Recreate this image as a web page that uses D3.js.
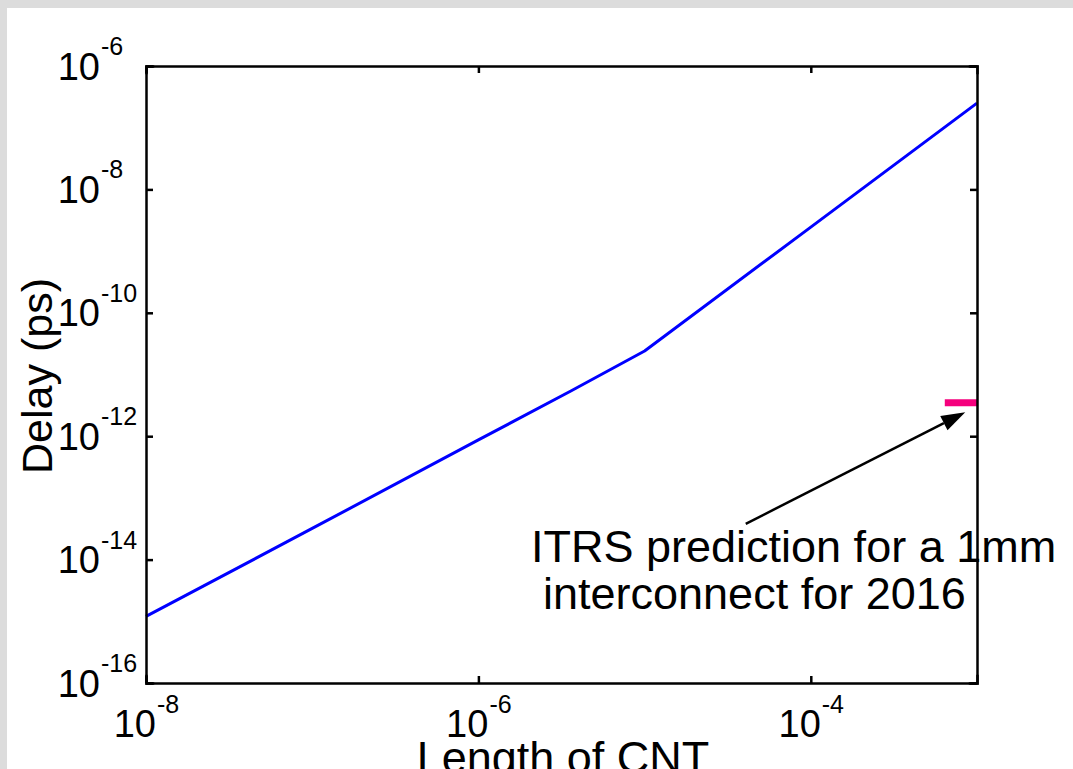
<!DOCTYPE html>
<html>
<head>
<meta charset="utf-8">
<script src="https://cdn.jsdelivr.net/npm/d3@7"></script>
<style>
  html, body { margin: 0; padding: 0; background: #ffffff; }
  svg { display: block; font-family: "Liberation Sans", Arial, sans-serif; }
</style>
</head>
<body>
<svg id="chart" width="1073" height="769"></svg>
<script>
// ---- data ----
const lengths = [1e-8, 1e-7, 1e-6, 3.6e-6, 1e-5, 1e-4, 1e-3];
const delays  = [1.2e-15, 3.2e-14, 8.7e-13, 5.4e-12, 2.4e-11, 2.45e-9, 2.5e-7];
const xTickExps = [-8, -6, -4];
const yTickExps = [-16, -14, -12, -10, -8, -6];
const itrsX = [6.4e-4, 1e-3];
const itrsY = 3.5e-12;
const arrowTail = [4.06e-5, 3.8e-14];
const arrowTip  = [8.5e-4, 2.45e-12];
const annotLines = ["ITRS prediction for a 1mm", "interconnect for 2016"];
const xTitle = "Length of CNT";
const yTitle = "Delay (ps)";

// ---- layout ----
const W = 1073, H = 769;
const m = { left: 146, top: 66, right: 977, bottom: 683 };
const svg = d3.select("#chart");

// background frame (grey edges of screenshot)
svg.append("rect").attr("x", 0).attr("y", 0).attr("width", W).attr("height", H).attr("fill", "#dcdcdc");
svg.append("rect").attr("x", 7).attr("y", 8).attr("width", W - 7).attr("height", H - 8).attr("fill", "#ffffff");

const x = d3.scaleLog().domain([1e-8, 1e-3]).range([m.left, m.right]);
const y = d3.scaleLog().domain([1e-16, 1e-6]).range([m.bottom, m.top]);

// data line
const pts = lengths.map((L, i) => [L, delays[i]]);
svg.append("path")
  .datum(pts)
  .attr("fill", "none")
  .attr("stroke", "#0000ff")
  .attr("stroke-width", 3)
  .attr("stroke-linejoin", "round")
  .attr("d", d3.line().x(d => x(d[0])).y(d => y(d[1])));

// ITRS marker
svg.append("line")
  .attr("x1", x(itrsX[0])).attr("x2", x(itrsX[1]))
  .attr("y1", y(itrsY)).attr("y2", y(itrsY))
  .attr("stroke", "#f5007d").attr("stroke-width", 7);

// axes (ticks inward, box)
const tickLen = 7;
const xAxisB = d3.axisBottom(x).tickValues(xTickExps.map(e => Math.pow(10, e))).tickSize(-tickLen).tickFormat("");
const xAxisT = d3.axisTop(x).tickValues(xTickExps.map(e => Math.pow(10, e))).tickSize(-tickLen).tickFormat("");
const yAxisL = d3.axisLeft(y).tickValues(yTickExps.map(e => Math.pow(10, e))).tickSize(-tickLen).tickFormat("");
const yAxisR = d3.axisRight(y).tickValues(yTickExps.map(e => Math.pow(10, e))).tickSize(-tickLen).tickFormat("");

function styleAxis(g) {
  g.selectAll(".domain").attr("stroke", "#000").attr("stroke-width", 2.5);
  g.selectAll(".tick line").attr("stroke", "#000").attr("stroke-width", 2.5);
}
svg.append("g").attr("transform", `translate(0,${m.bottom})`).call(xAxisB).call(styleAxis);
svg.append("g").attr("transform", `translate(0,${m.top})`).call(xAxisT).call(styleAxis);
svg.append("g").attr("transform", `translate(${m.left},0)`).call(yAxisL).call(styleAxis);
svg.append("g").attr("transform", `translate(${m.right},0)`).call(yAxisR).call(styleAxis);
svg.selectAll(".domain").attr("stroke-linecap", "square");

// tick labels
const baseSize = 38, supSize = 25;
yTickExps.forEach(e => {
  const ty = y(Math.pow(10, e));
  svg.append("text").attr("x", 100).attr("y", ty + 13.5)
    .attr("text-anchor", "end").attr("font-size", baseSize).attr("fill", "#000").text("10");
  svg.append("text").attr("x", 101).attr("y", ty - 11)
    .attr("text-anchor", "start").attr("font-size", supSize).attr("fill", "#000").text(String(e));
});
xTickExps.forEach(e => {
  const tx = x(Math.pow(10, e));
  svg.append("text").attr("x", tx + 10).attr("y", 737)
    .attr("text-anchor", "end").attr("font-size", baseSize).attr("fill", "#000").text("10");
  svg.append("text").attr("x", tx + 11).attr("y", 713)
    .attr("text-anchor", "start").attr("font-size", supSize).attr("fill", "#000").text(String(e));
});

// axis titles
svg.append("text").attr("x", 563).attr("y", 773)
  .attr("text-anchor", "middle").attr("font-size", 45).attr("fill", "#000").text(xTitle);
svg.append("text").attr("transform", "translate(52,376) rotate(-90)")
  .attr("text-anchor", "middle").attr("font-size", 43).attr("fill", "#000").text(yTitle);

// annotation arrow
const ax1 = x(arrowTail[0]), ay1 = y(arrowTail[1]);
const ax2 = x(arrowTip[0]),  ay2 = y(arrowTip[1]);
const ang = Math.atan2(ay2 - ay1, ax2 - ax1);
const headL = 24, headW = 8;
const bx = ax2 - headL * Math.cos(ang), by = ay2 - headL * Math.sin(ang);
svg.append("line").attr("x1", ax1).attr("y1", ay1).attr("x2", bx).attr("y2", by)
  .attr("stroke", "#000").attr("stroke-width", 2.5);
svg.append("path")
  .attr("d", `M${ax2},${ay2} L${bx - headW * Math.sin(ang)},${by + headW * Math.cos(ang)} L${bx + headW * Math.sin(ang)},${by - headW * Math.cos(ang)} Z`)
  .attr("fill", "#000");

// annotation text
svg.append("text").attr("x", 531).attr("y", 562).attr("font-size", 45).attr("fill", "#000").text(annotLines[0]);
svg.append("text").attr("x", 543).attr("y", 609).attr("font-size", 45).attr("fill", "#000").text(annotLines[1]);
</script>
</body>
</html>
